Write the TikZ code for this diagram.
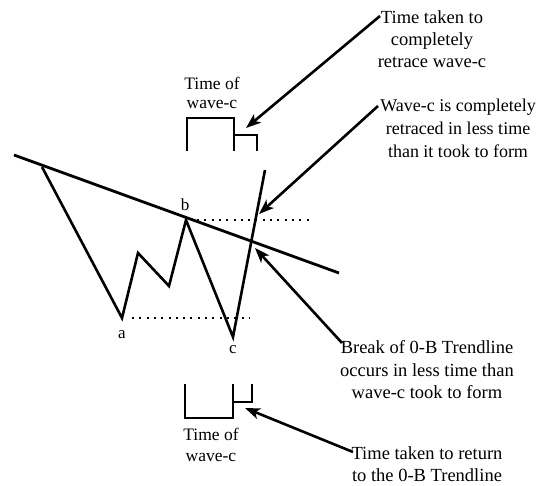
\documentclass[tikz,border=0pt]{standalone}
\usepackage{fontspec}
\setmainfont{Liberation Serif}
\usetikzlibrary{arrows.meta}
\begin{document}
\begin{tikzpicture}[x=1pt,y=-1pt,
  wave/.style={line width=2.6pt,line join=miter},
  trend/.style={line width=2.8pt},
  level/.style={line width=2.2pt,dash pattern=on 2pt off 5.3pt},
  bracket/.style={line width=1.8pt},
  callout/.style={line width=2.6pt,-{Stealth[length=15pt,width=11pt,inset=4pt]}},
  note/.style={font=\fontsize{18.5}{23}\selectfont,align=center,inner sep=0pt},
  timelbl/.style={font=\fontsize{17.5}{19}\selectfont,align=center,inner sep=0pt},
  ptlbl/.style={font=\fontsize{17}{20}\selectfont,inner sep=0pt}]
\useasboundingbox (0,0) rectangle (538,486);
% wave points
\coordinate (w0) at (42,167);
\coordinate (wa) at (122,318);
\coordinate (w1) at (138,253);
\coordinate (w2) at (169,286);
\coordinate (wb) at (186,220);
\coordinate (wc) at (233,337);
\coordinate (we) at (265,170);
\coordinate (t1) at (14,155);
\coordinate (t2) at (339,273);
% trendline and wave
\draw[trend] (t1) -- (t2);
\draw[wave] (w0) -- (wa) -- (w1) -- (w2) -- (wb) -- (wc) -- (we);
% dotted levels
\coordinate (db1) at (197,220);
\coordinate (db2) at (313,220);
\coordinate (da1) at (132,318);
\coordinate (da2) at (249,318);
\draw[level] (db1) -- (db2);
\draw[level] (da1) -- (da2);
% point labels
\node[ptlbl] (lb) at (185,205) {b};
\node[ptlbl] (la) at (122,335) {a};
\node[ptlbl] (lc) at (233,350) {c};
% top bracket
\coordinate (u1) at (187,151);
\coordinate (u2) at (187,118);
\coordinate (u3) at (234,118);
\coordinate (u4) at (234,151);
\coordinate (u5) at (234,135);
\coordinate (u6) at (257,135);
\coordinate (u7) at (257,151);
\draw[bracket] (u1) -- (u2) -- (u3) -- (u4);
\draw[bracket] (u5) -- (u6) -- (u7);
\node[timelbl] (ttop) at (212,93) {Time of\\wave-c};
% bottom bracket
\coordinate (v1) at (185,384);
\coordinate (v2) at (185,418);
\coordinate (v3) at (233,418);
\coordinate (v4) at (233,384);
\coordinate (v5) at (233,402);
\coordinate (v6) at (252,402);
\coordinate (v7) at (252,384);
\draw[bracket] (v1) -- (v2) -- (v3) -- (v4);
\draw[bracket] (v5) -- (v6) -- (v7);
\node[timelbl,font=\fontsize{17.5}{21}\selectfont] (tbot) at (211,445) {Time of\\wave-c};
% notes
\node[note,font=\fontsize{18.5}{22}\selectfont] (n1) at (432,39) {Time taken to\\completely\\retrace wave-c};
\node[note,font=\fontsize{18}{23}\selectfont] (n2) at (458,128) {Wave-c is completely\\retraced in less time\\than it took to form};
\node[note,font=\fontsize{18.5}{22.5}\selectfont] (n3) at (427,370) {Break of 0-B Trendline\\occurs in less time than\\wave-c took to form};
\node[note,font=\fontsize{18.5}{22.5}\selectfont] (n4) at (427,464) {Time taken to return\\to the 0-B Trendline};
% callout arrows
\coordinate (s1) at (380,16);
\coordinate (e1) at (246,128);
\coordinate (s2) at (378,106);
\coordinate (e2) at (259,214);
\coordinate (s3) at (342,343);
\coordinate (e3) at (255,248);
\coordinate (s4) at (353,452);
\coordinate (e4) at (245,408);
\draw[callout] (s1) -- (e1);
\draw[callout] (s2) -- (e2);
\draw[callout] (s3) -- (e3);
\draw[callout] (s4) -- (e4);
\end{tikzpicture}
\end{document}
